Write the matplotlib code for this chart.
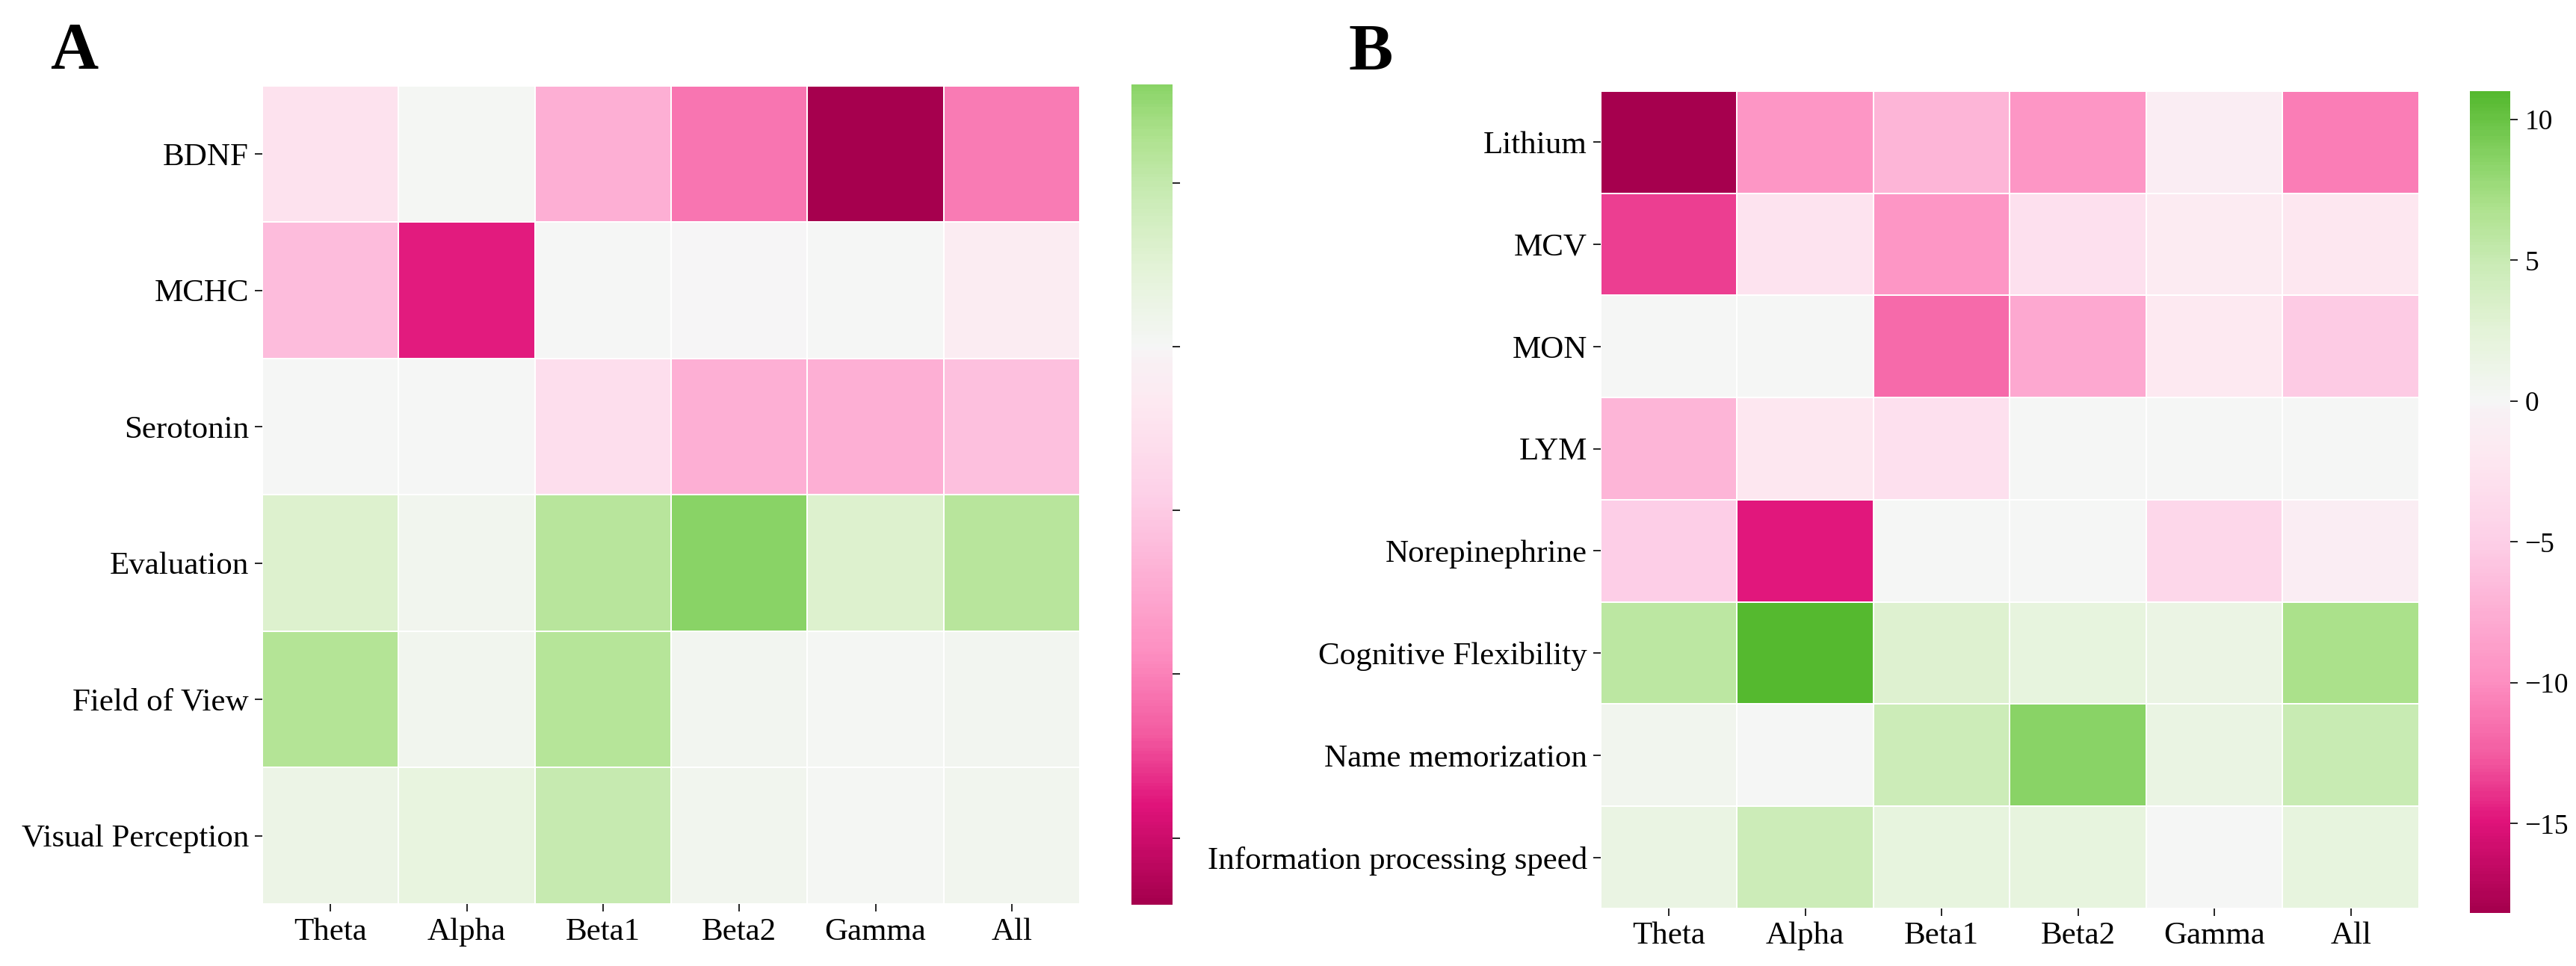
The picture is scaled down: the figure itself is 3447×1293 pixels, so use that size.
import numpy as np
import matplotlib
matplotlib.use('Agg')
import matplotlib.pyplot as plt
from matplotlib.colors import LinearSegmentedColormap, ListedColormap, Normalize

plt.rcParams['font.family'] = 'serif'
plt.rcParams['font.serif'] = ['Liberation Serif', 'DejaVu Serif']

bands = ['Theta', 'Alpha', 'Beta1', 'Beta2', 'Gamma', 'All']

rows_a = ['BDNF', 'MCHC', 'Serotonin', 'Evaluation', 'Field of View', 'Visual Perception']
vals_a = [
    [-2.5, 0.1, -7.0, -10.5, -17.04, -10.3],
    [-6.0, -13.8, 0.0, -0.1, 0.0, -1.3],
    [0.0, 0.0, -3.0, -7.0, -7.0, -5.8],
    [3.0, 0.5, 5.8, 8.0, 3.0, 5.8],
    [6.0, 0.5, 5.9, 0.4, 0.1, 0.4],
    [1.3, 1.8, 4.8, 0.5, 0.1, 0.5],
]

rows_b = ['Lithium', 'MCV', 'MON', 'LYM', 'Norepinephrine', 'Cognitive Flexibility',
          'Name memorization', 'Information processing speed']
vals_b = [
    [-18.17, -9.5, -7.0, -9.5, -1.0, -10.8],
    [-13.5, -2.5, -9.5, -3.0, -1.5, -2.0],
    [0.0, 0.0, -11.8, -8.0, -1.8, -5.3],
    [-7.0, -2.0, -3.0, 0.0, 0.0, 0.0],
    [-5.0, -14.8, 0.0, 0.0, -4.0, -1.0],
    [5.8, 11.0, 3.0, 2.0, 1.5, 7.0],
    [0.6, 0.0, 4.8, 8.5, 1.6, 5.0],
    [1.6, 4.8, 2.0, 2.0, 0.1, 2.0],
]

# diverging pink-grey-green colormap, sampled from the reference colorbar
cmap = LinearSegmentedColormap.from_list('pkgr', [
    (0.0, '#a6004e'), (0.087, '#e0137a'), (0.15, '#f35aa0'), (0.225, '#fd8fc1'),
    (0.362, '#fdcfe7'), (0.45, '#fde9f1'), (0.49, '#f8f1f4'), (0.5, '#f6f6f6'),
    (0.57, '#e4f3d8'), (0.638, '#c9ebb4'), (0.69, '#aee28e'), (0.735, '#8bd468'),
    (0.803, '#55b92f'), (1.0, '#2f8a14')])


def centered(data):
    # crop the colormap around 0 like seaborn's center=0
    lo, hi = data.min(), data.max()
    vr = max(-lo, hi)
    t = np.linspace(0.5 + lo / (2 * vr), 0.5 + hi / (2 * vr), 256)
    return ListedColormap(cmap(t)), Normalize(lo, hi)


def heatmap(ax, cax, data, rows, ticks, show_labels=True):
    data = np.array(data)
    cm, norm = centered(data)
    mesh = ax.pcolormesh(data, cmap=cm, norm=norm, edgecolors='white', linewidth=0.6)
    ax.set_xlim(0, data.shape[1])
    ax.set_ylim(data.shape[0], 0)
    ax.set_xticks(np.arange(data.shape[1]) + 0.5)
    ax.set_xticklabels(bands)
    ax.set_yticks(np.arange(data.shape[0]) + 0.5)
    ax.set_yticklabels(rows)
    for s in ax.spines.values():
        s.set_visible(False)
    ax.tick_params(length=3.5, width=0.6, labelsize=15.5, pad=3)
    cbar = plt.colorbar(mesh, cax=cax)
    cbar.outline.set_visible(False)
    cbar.set_ticks(ticks)
    if show_labels:
        cbar.ax.tick_params(labelsize=13.5, length=3.5, width=0.6)
    else:
        # labels of panel A's colorbar are hidden under panel B in the original
        cbar.set_ticklabels([''] * len(ticks))
        cbar.ax.tick_params(length=3.5, width=0.6)


fig = plt.figure(figsize=(17.24, 6.465), dpi=200)
ax_a = fig.add_axes([0.1018, 0.0642, 0.3173, 0.8469])
cax_a = fig.add_axes([0.4391, 0.0634, 0.0160, 0.8492])
ax_b = fig.add_axes([0.6212, 0.0596, 0.3176, 0.8461])
cax_b = fig.add_axes([0.9585, 0.0549, 0.0157, 0.8507])

heatmap(ax_a, cax_a, vals_a, rows_a, [5, 0, -5, -10, -15], show_labels=False)
heatmap(ax_b, cax_b, vals_b, rows_b, [10, 5, 0, -5, -10, -15])

fig.text(67 / 3448, 1 - 91 / 1293, 'A', fontsize=32, fontweight='bold', va='baseline')
fig.text(1805 / 3448, 1 - 93 / 1293, 'B', fontsize=32, fontweight='bold', va='baseline')

fig.savefig('out.png', dpi=200)
